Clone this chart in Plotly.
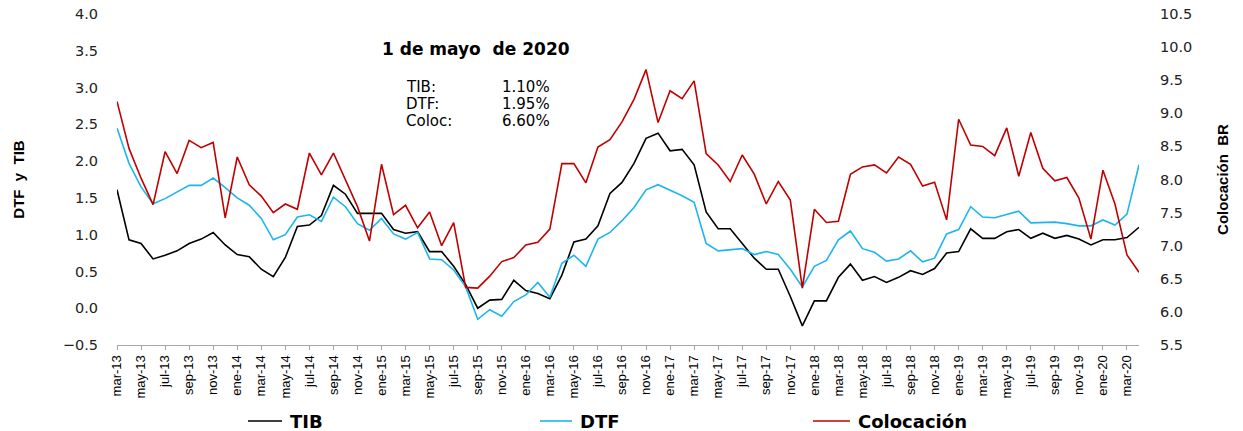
import plotly.graph_objects as go

# Months Mar-2013 .. Apr-2020 (Spanish abbreviations)
month_abbr = ["ene", "feb", "mar", "abr", "may", "jun", "jul", "ago", "sep", "oct", "nov", "dic"]
months = []
y, m = 2013, 2
while (y, m) <= (2020, 3):
    months.append(f"{month_abbr[m]}-{str(y)[2:]}")
    m += 1
    if m == 12:
        m = 0
        y += 1

tib = [1.61, 0.93, 0.88, 0.67, 0.72, 0.78, 0.88, 0.94, 1.03, 0.86,
       0.73, 0.70, 0.53, 0.43, 0.69, 1.11, 1.13, 1.26, 1.67, 1.55,
       1.29, 1.29, 1.29, 1.07, 1.02, 1.04, 0.77, 0.77, 0.57, 0.32,
       0.00, 0.11, 0.12, 0.38, 0.24, 0.20, 0.13, 0.45, 0.90, 0.94,
       1.12, 1.56, 1.71, 1.97, 2.31, 2.38, 2.14, 2.16, 1.95, 1.31,
       1.08, 1.08, 0.88, 0.68, 0.53, 0.53, 0.16, -0.24, 0.10, 0.10,
       0.42, 0.60, 0.38, 0.43, 0.35, 0.42, 0.51, 0.46, 0.54, 0.75,
       0.77, 1.08, 0.95, 0.95, 1.04, 1.07, 0.95, 1.02, 0.95, 0.99,
       0.94, 0.86, 0.93, 0.93, 0.96, 1.10]

dtf = [2.45, 1.97, 1.65, 1.42, 1.49, 1.58, 1.67, 1.67, 1.77, 1.64,
       1.50, 1.40, 1.22, 0.93, 1.00, 1.24, 1.27, 1.18, 1.51, 1.38,
       1.15, 1.06, 1.22, 1.01, 0.94, 1.03, 0.67, 0.66, 0.52, 0.29,
       -0.15, -0.02, -0.11, 0.09, 0.18, 0.35, 0.15, 0.61, 0.72, 0.57,
       0.94, 1.03, 1.19, 1.37, 1.61, 1.68, 1.61, 1.53, 1.44, 0.88,
       0.78, 0.80, 0.81, 0.73, 0.77, 0.73, 0.53, 0.29, 0.57, 0.65,
       0.93, 1.05, 0.81, 0.76, 0.64, 0.67, 0.78, 0.63, 0.68, 1.01,
       1.07, 1.38, 1.24, 1.23, 1.27, 1.32, 1.16, 1.17, 1.17, 1.15,
       1.12, 1.12, 1.20, 1.13, 1.28, 1.95]

coloc = [9.18, 8.47, 8.02, 7.62, 8.42, 8.09, 8.59, 8.48, 8.56, 7.42,
         8.34, 7.92, 7.75, 7.50, 7.63, 7.55, 8.40, 8.07, 8.40, 7.99,
         7.59, 7.07, 8.23, 7.47, 7.61, 7.27, 7.51, 7.00, 7.35, 6.37,
         6.36, 6.54, 6.76, 6.82, 7.01, 7.05, 7.25, 8.24, 8.24, 7.95,
         8.49, 8.60, 8.87, 9.21, 9.66, 8.86, 9.34, 9.22, 9.49, 8.39,
         8.22, 7.97, 8.37, 8.08, 7.63, 7.97, 7.69, 6.36, 7.55, 7.35,
         7.37, 8.08, 8.19, 8.22, 8.10, 8.34, 8.23, 7.90, 7.96, 7.39,
         8.91, 8.52, 8.50, 8.36, 8.78, 8.05, 8.71, 8.17, 7.98, 8.03,
         7.72, 7.10, 8.14, 7.63, 6.86, 6.60]

tick_labels = months[::2]

title_text = "1 de mayo\u00a0\u00a0de 2020"
box_names = ["TIB:", "DTF:", "Coloc:"]
box_values = ["1.10%", "1.95%", "6.60%"]

series_names = ["TIB", "DTF", "Colocación"]
series_colors = ["#000000", "#1EB4F0", "#C00000"]

fig = go.Figure()
fig.add_trace(go.Scatter(x=months, y=tib, name=series_names[0], mode="lines",
                         line=dict(color=series_colors[0], width=1.6)))
fig.add_trace(go.Scatter(x=months, y=dtf, name=series_names[1], mode="lines",
                         line=dict(color=series_colors[1], width=1.6)))
fig.add_trace(go.Scatter(x=months, y=coloc, name=series_names[2], mode="lines",
                         line=dict(color=series_colors[2], width=1.6), yaxis="y2"))

tick_font = dict(family="DejaVu Sans", size=14.5, color="#222222")

L, R, T, B = 117, 104, 14, 86
PW, PH = 1243 - L - R, 431 - T - B


def px(xp):
    return (xp - L) / PW


def py(yp):
    return (431 - B - yp) / PH


fig.update_layout(
    width=1243, height=431,
    margin=dict(l=L, r=R, t=T, b=B, autoexpand=False),
    paper_bgcolor="white", plot_bgcolor="white",
    showlegend=False,
    xaxis=dict(type="category", range=[0, len(months) - 1], automargin=False,
               tickmode="array", tickvals=tick_labels, ticktext=tick_labels,
               tickangle=-90, tickfont=dict(family="Liberation Sans", size=13, color="#000000"),
               showline=True, linecolor="#A6A6A6", linewidth=1,
               ticks="outside", ticklen=4, tickcolor="#A6A6A6",
               showgrid=False, zeroline=False),
    yaxis=dict(range=[-0.5, 4.0], dtick=0.5, tickformat=".1f", automargin=False,
               tickfont=tick_font, showgrid=False, zeroline=False, showline=False,
               ticks="", ticklabelstandoff=18,
               title=dict(text="DTF\u00a0\u00a0y\u00a0\u00a0TIB", standoff=34,
                          font=dict(family="Liberation Sans", size=15, color="#000000", weight="bold"))),
    yaxis2=dict(range=[5.5, 10.5], dtick=0.5, tickformat=".1f", overlaying="y", side="right",
                automargin=False,
                tickfont=tick_font, showgrid=False, zeroline=False, showline=False,
                ticks="", ticklabelstandoff=20,
                title=dict(text="Colocación\u00a0\u00a0BR", standoff=26,
                           font=dict(family="Liberation Sans", size=15, color="#000000", weight="bold"))),
)

# Legend drawn as line samples + bold labels at the bottom
legend_sample_x = [(248, 282), (540, 572), (813, 850)]
legend_y = 421
for (x0, x1), nm, col in zip(legend_sample_x, series_names, series_colors):
    fig.add_shape(type="line", xref="paper", yref="paper",
                  x0=px(x0), x1=px(x1), y0=py(legend_y), y1=py(legend_y),
                  line=dict(color=col, width=1.6))
    fig.add_annotation(xref="paper", yref="paper", x=px(x1 + 6), y=py(legend_y),
                       xanchor="left", yanchor="middle", showarrow=False, text=f"<b>{nm}</b>",
                       font=dict(family="DejaVu Sans", size=18, color="#000000"))

fig.add_annotation(xref="paper", yref="paper", x=px(380), y=py(49),
                   xanchor="left", yanchor="middle", showarrow=False, text=f"<b>{title_text}</b>",
                   font=dict(family="DejaVu Sans", size=17, color="#000000"))
for i, (nm, val) in enumerate(zip(box_names, box_values)):
    yy = 87 + 17 * i
    fig.add_annotation(xref="paper", yref="paper", x=px(404), y=py(yy),
                       xanchor="left", yanchor="middle", showarrow=False, text=nm,
                       font=dict(family="DejaVu Sans", size=15, color="#000000"))
    fig.add_annotation(xref="paper", yref="paper", x=px(500), y=py(yy),
                       xanchor="left", yanchor="middle", showarrow=False, text=val,
                       font=dict(family="DejaVu Sans", size=15, color="#000000"))

fig.write_html("out.html", post_script="document.body.style.margin='0px';",
               config={"displayModeBar": False})
